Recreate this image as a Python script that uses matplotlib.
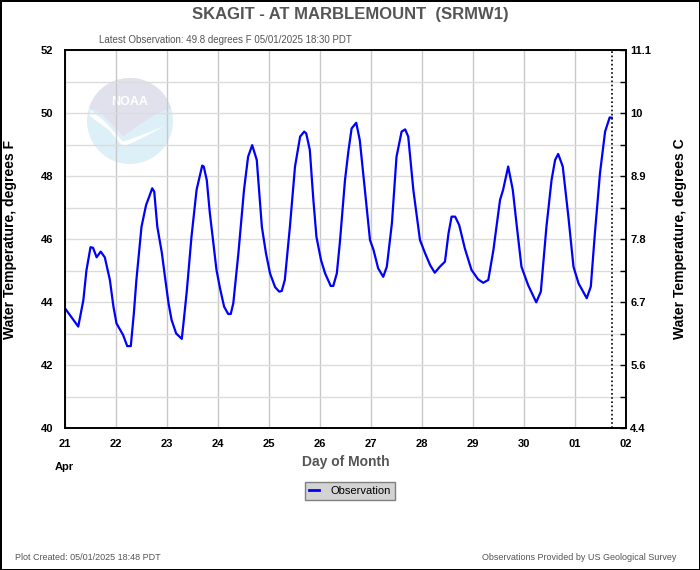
#!/usr/bin/env python

"""
Skagit at Marblemount - water temperature hydrograph
"""

import numpy as np
import pandas as pd
import matplotlib
matplotlib.use('Agg')
import matplotlib.pyplot as plt
import matplotlib.dates as mdates
from matplotlib.patches import Circle, Polygon

# -------------------- Data --------------------

start = pd.Timestamp('2025-04-21 00:00')

# time of each observation, days after Apr 21 00:00
obs_days = [
    0.00, 0.26, 0.36, 0.42, 0.50, 0.55, 0.62, 0.70, 0.78, 0.88, 0.95,
    1.01, 1.14, 1.22, 1.29, 1.35, 1.40, 1.50, 1.59, 1.65, 1.71, 1.75,
    1.81, 1.90, 1.96, 2.03, 2.09, 2.18, 2.29, 2.33, 2.39, 2.48, 2.58,
    2.69, 2.72, 2.78, 2.84, 2.91, 2.97, 3.04, 3.12, 3.20, 3.25, 3.30,
    3.40, 3.51, 3.59, 3.67, 3.76, 3.86, 3.94, 4.02, 4.12, 4.20, 4.25,
    4.31, 4.41, 4.51, 4.61, 4.69, 4.73, 4.80, 4.87, 4.93, 5.02, 5.10,
    5.21, 5.26, 5.33, 5.39, 5.49, 5.56, 5.62, 5.71, 5.78, 5.88, 5.98,
    6.05, 6.14, 6.24, 6.31, 6.41, 6.50, 6.60, 6.67, 6.73, 6.83, 6.96,
    7.06, 7.16, 7.25, 7.35, 7.45, 7.52, 7.58, 7.65, 7.73, 7.84, 7.97,
    8.10, 8.20, 8.30, 8.40, 8.53, 8.59, 8.69, 8.78, 8.86, 8.95, 9.08,
    9.24, 9.33, 9.44, 9.54, 9.61, 9.67, 9.76, 9.87, 9.97, 10.07, 10.23,
    10.31, 10.39, 10.49, 10.59, 10.68, 10.72,
]

# water temperature, degrees F
obs_temp = [
    43.80, 43.22, 44.06, 45.00, 45.74, 45.72, 45.42, 45.60, 45.42, 44.70, 43.85,
    43.32, 42.95, 42.60, 42.60, 43.64, 44.70, 46.39, 47.08, 47.34, 47.61, 47.50,
    46.39, 45.55, 44.80, 43.96, 43.43, 43.00, 42.83, 43.43, 44.38, 46.07, 47.56,
    48.33, 48.30, 47.87, 46.82, 45.86, 45.02, 44.43, 43.85, 43.62, 43.62, 43.96,
    45.55, 47.56, 48.61, 48.98, 48.51, 46.39, 45.55, 44.91, 44.47, 44.33, 44.35,
    44.70, 46.39, 48.30, 49.25, 49.41, 49.35, 48.83, 47.24, 46.07, 45.33, 44.91,
    44.51, 44.51, 44.91, 45.90, 47.87, 48.83, 49.51, 49.69, 49.14, 47.56, 45.97,
    45.65, 45.07, 44.80, 45.12, 46.50, 48.61, 49.41, 49.48, 49.25, 47.56, 45.97,
    45.55, 45.17, 44.93, 45.12, 45.28, 46.18, 46.71, 46.71, 46.44, 45.70, 45.02,
    44.72, 44.61, 44.70, 45.65, 47.24, 47.56, 48.30, 47.56, 46.39, 45.12, 44.54,
    43.99, 44.33, 46.39, 47.87, 48.51, 48.70, 48.30, 46.71, 45.12, 44.59, 44.12,
    44.49, 46.18, 48.09, 49.41, 49.86, 49.85,
]

f_ticks = [40, 42, 44, 46, 48, 50, 52]
day_labels = ['21', '22', '23', '24', '25', '26', '27', '28', '29', '30', '01', '02']

title = 'SKAGIT - AT MARBLEMOUNT  (SRMW1)'
latest = 'Latest Observation: 49.8 degrees F 05/01/2025 18:30 PDT'
created = 'Plot Created: 05/01/2025 18:48 PDT'
source = 'Observations Provided by US Geological Survey'

# -------------------- Utils --------------------

SANS = ['Liberation Sans', 'DejaVu Sans']


def f_to_c(f):
    return (f - 32.0) * 5.0 / 9.0


def c_label(f):
    s = '%.1f' % f_to_c(f)
    if s.endswith('.0'):
        s = s[:-2]
    return s


def noaaLogo(fig):
    # faint logo sitting behind the grid
    lax = fig.add_axes([87 / 700, (570 - 164) / 570, 86 / 700, 86 / 570], zorder=0)
    lax.set_xlim(0, 1)
    lax.set_ylim(0, 1)
    lax.axis('off')
    disc = Circle((0.5, 0.5), 0.5, facecolor='#ddf0f8', edgecolor='none')
    lax.add_patch(disc)
    top = Polygon([(0.0, 1.0), (0.0, 0.66), (0.15, 0.6), (0.3, 0.45), (0.42, 0.32),
                   (0.6, 0.45), (0.8, 0.58), (1.0, 0.66), (1.0, 1.0)],
                  facecolor='#e1e1ee', edgecolor='none')
    lax.add_patch(top)
    top.set_clip_path(disc)
    bird = Polygon([(0.05, 0.62), (0.2, 0.5), (0.42, 0.26), (0.62, 0.33), (0.9, 0.44),
                    (0.62, 0.29), (0.42, 0.2), (0.25, 0.4), (0.03, 0.56)],
                   facecolor='white', edgecolor='none')
    lax.add_patch(bird)
    bird.set_clip_path(disc)
    lax.text(0.5, 0.72, 'NOAA', color='white', fontsize=9, fontweight='bold',
             ha='center', va='center', family=SANS)

# -------------------- Plot --------------------

def plotTemperature():
    times = start + pd.to_timedelta(obs_days, unit='D')
    end = start + pd.Timedelta(days=11)

    fig = plt.figure(figsize=(7.0, 5.7), dpi=100)
    fig.patch.set_facecolor('white')
    fig.patch.set_edgecolor('black')
    fig.patch.set_linewidth(2)

    noaaLogo(fig)

    ax = fig.add_axes([65 / 700, (570 - 428) / 570, 561 / 700, 378 / 570], zorder=1)
    ax.set_facecolor('none')

    ax.set_xlim(start, end)
    ax.set_ylim(40, 52)

    # grid
    ax.set_yticks(np.arange(40, 53, 1), minor=True)
    ax.grid(True, which='minor', axis='y', color='#dcdcdc', linewidth=1)
    ax.grid(True, which='major', axis='y', color='#dcdcdc', linewidth=1)
    ax.xaxis.set_major_locator(mdates.DayLocator())
    ax.grid(True, which='major', axis='x', color='#c8c8c8', linewidth=1)
    ax.set_axisbelow(True)

    ax.plot(times, obs_temp, color='#0000ff', linewidth=1.6, label='Observation',
            zorder=3)
    ax.axvline(times[-1], color='black', linestyle=(0, (1, 1.5)), linewidth=1.2,
               zorder=4)

    for s in ax.spines.values():
        s.set_linewidth(1.2)
        s.set_color('black')

    ax.set_yticks(f_ticks)
    ax.set_yticklabels([str(v) for v in f_ticks], family=SANS,
                       fontweight='bold', fontsize=8)
    ax.tick_params(axis='y', which='both', length=0, pad=8.5)

    ax.xaxis.set_major_formatter(mdates.DateFormatter('%d'))
    ax.set_xticks(pd.date_range(start, end, freq='D'))
    ax.set_xticklabels(day_labels, family=SANS, fontweight='bold', fontsize=8)
    ax.tick_params(axis='x', length=0, pad=8)

    ax.set_ylabel('Water Temperature, degrees F', family=SANS, fontweight='bold',
                  fontsize=10, labelpad=17)
    ax.set_xlabel('Day of Month', family=SANS, fontweight='bold', fontsize=10,
                  color='#555555', labelpad=4)

    # right hand axis in Celsius
    rax = ax.twinx()
    rax.set_ylim(40, 52)
    rax.set_yticks(f_ticks)
    rax.set_yticklabels([c_label(v) for v in f_ticks], family=SANS,
                        fontweight='bold', fontsize=8)
    rax.set_yticks(np.arange(41, 52, 2), minor=True)
    rax.tick_params(axis='y', which='both', direction='in', length=4, width=1,
                    pad=3)
    rax.set_ylabel('Water Temperature, degrees C', family=SANS, fontweight='bold',
                   fontsize=10, labelpad=16)
    for s in rax.spines.values():
        s.set_linewidth(1.2)

    # texts around the plot
    fig.text(0.5, 1 - 14 / 570, title, ha='center', va='center', family=SANS,
             fontweight='bold', fontsize=12, color='#555555')
    fig.text(225 / 700, 1 - 40 / 570, latest, ha='center', va='center',
             family=SANS, fontsize=7, color='#555555')
    fig.text(64 / 700, 1 - 467 / 570, 'Apr', ha='center', va='center',
             family=SANS, fontweight='bold', fontsize=8)
    fig.text(15 / 700, 1 - 557 / 570, created, ha='left', va='center',
             family=SANS, fontsize=6.5, color='#555555')
    fig.text(676 / 700, 1 - 557 / 570, source, ha='right', va='center',
             family=SANS, fontsize=6.5, color='#555555')

    leg = ax.legend(loc='center', bbox_to_anchor=(350 / 700, 1 - 491 / 570),
                    bbox_transform=fig.transFigure, fancybox=False,
                    handlelength=0.9, handletextpad=1.0, borderpad=0.4,
                    borderaxespad=0, prop={'family': SANS, 'size': 8})
    leg.get_frame().set_facecolor('#d3d3d3')
    leg.get_frame().set_edgecolor('#808080')
    leg.get_frame().set_alpha(1)
    leg.get_lines()[0].set_linewidth(2)

    fig.savefig('out.png', dpi=100)

# -------------------- Entry Point --------------------

def main():
    plotTemperature()

if __name__ == "__main__":
    main()
